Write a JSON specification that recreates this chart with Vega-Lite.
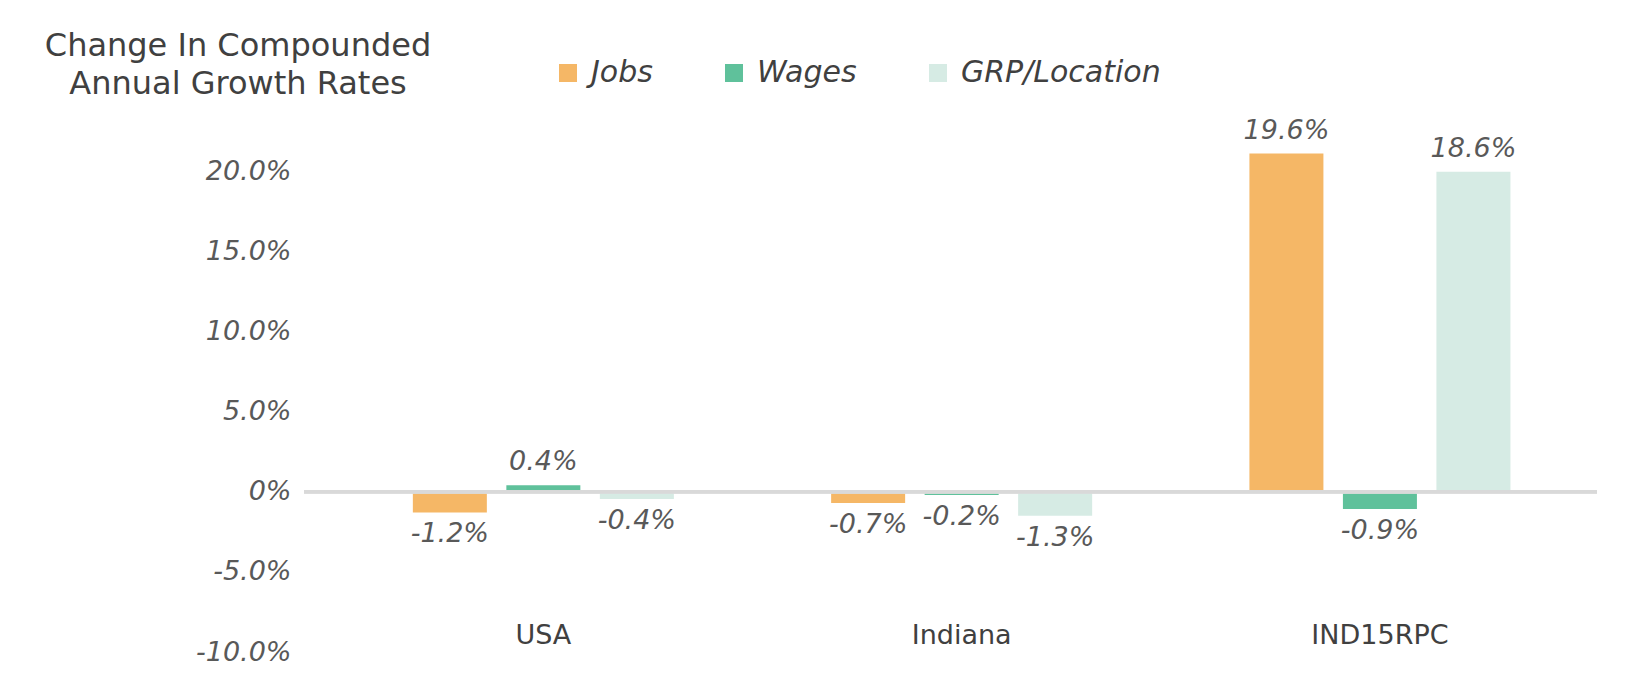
{
  "$schema": "https://vega.github.io/schema/vega-lite/v6.json",
  "width": 1293,
  "height": 561,
  "autosize": {"type": "none"},
  "padding": {"left": 304, "top": 91, "right": 50, "bottom": 42},
  "background": "white",
  "config": {"view": {"stroke": null}, "font": "DejaVu Sans"},
  "title": {
    "text": ["Change In Compounded", "Annual Growth Rates"],
    "font": "DejaVu Sans",
    "fontSize": 32,
    "fontWeight": "normal",
    "color": "#404040",
    "anchor": "start",
    "align": "center",
    "frame": "group",
    "baseline": "top",
    "lineHeight": 38,
    "offset": 0,
    "dx": -66,
    "dy": 43
  },
  "data": {
    "values": [
      {"region": "USA", "series": "Jobs", "value": -1.29, "label": "-1.2%"},
      {"region": "USA", "series": "Wages", "value": 0.41, "label": "0.4%"},
      {"region": "USA", "series": "GRP/Location", "value": -0.46, "label": "-0.4%"},
      {"region": "Indiana", "series": "Jobs", "value": -0.71, "label": "-0.7%"},
      {"region": "Indiana", "series": "Wages", "value": -0.21, "label": "-0.2%"},
      {"region": "Indiana", "series": "GRP/Location", "value": -1.5, "label": "-1.3%"},
      {"region": "IND15RPC", "series": "Jobs", "value": 21.1, "label": "19.6%"},
      {"region": "IND15RPC", "series": "Wages", "value": -1.08, "label": "-0.9%"},
      {"region": "IND15RPC", "series": "GRP/Location", "value": 19.96, "label": "18.6%"}
    ]
  },
  "encoding": {
    "x": {
      "field": "region",
      "type": "nominal",
      "sort": ["USA", "Indiana", "IND15RPC"],
      "scale": {"paddingInner": 0.376, "paddingOuter": 0.2336, "align": 0.557},
      "axis": {
        "title": null,
        "domain": false,
        "ticks": false,
        "labelAngle": 0,
        "labelPadding": 0,
        "offset": -30,
        "labelFont": "DejaVu Sans",
        "labelFontSize": 27,
        "labelColor": "#404040"
      }
    },
    "xOffset": {
      "field": "series",
      "type": "nominal",
      "sort": ["Jobs", "Wages", "GRP/Location"],
      "scale": {"paddingInner": 0.2086, "paddingOuter": 0}
    },
    "y": {
      "field": "value",
      "type": "quantitative",
      "scale": {"domain": [-10, 25], "nice": false, "zero": false},
      "axis": {
        "title": null,
        "domain": false,
        "ticks": false,
        "grid": false,
        "values": [-10, -5, 0, 5, 10, 15, 20],
        "labelExpr": "datum.value == 0 ? '0%' : (datum.value < 0 ? '-' : '') + format(abs(datum.value), '.1f') + '%'",
        "labelPadding": 13,
        "labelFont": "DejaVu Sans",
        "labelFontStyle": "italic",
        "labelFontSize": 27,
        "labelColor": "#595959"
      }
    }
  },
  "layer": [
    {
      "mark": {"type": "bar"},
      "encoding": {
        "color": {
          "field": "series",
          "type": "nominal",
          "scale": {
            "domain": ["Jobs", "Wages", "GRP/Location"],
            "range": ["#F5B766", "#5FC19B", "#D6EBE4"]
          },
          "legend": {
            "orient": "none",
            "legendX": 249,
            "legendY": -33,
            "direction": "horizontal",
            "title": null,
            "symbolType": "square",
            "symbolSize": 324,
            "symbolStrokeWidth": 0,
            "labelFont": "DejaVu Sans",
            "labelFontSize": 30,
            "labelFontStyle": "italic",
            "labelColor": "#404040",
            "labelOffset": 8,
            "labelLimit": 400,
            "columnPadding": 66,
            "padding": 0
          }
        }
      }
    },
    {
      "transform": [{"filter": "datum.value >= 0"}],
      "mark": {"type": "text", "baseline": "bottom", "dy": -9, "font": "DejaVu Sans", "fontStyle": "italic", "fontSize": 27, "color": "#595959"},
      "encoding": {"text": {"field": "label"}}
    },
    {
      "transform": [{"filter": "datum.value < 0"}],
      "mark": {"type": "text", "baseline": "top", "dy": 9, "font": "DejaVu Sans", "fontStyle": "italic", "fontSize": 27, "color": "#595959"},
      "encoding": {"text": {"field": "label"}}
    },
    {
      "mark": {"type": "rule", "color": "#D9D9D9", "strokeWidth": 3},
      "encoding": {"y": {"datum": 0}, "x": null, "xOffset": null}
    }
  ]
}
